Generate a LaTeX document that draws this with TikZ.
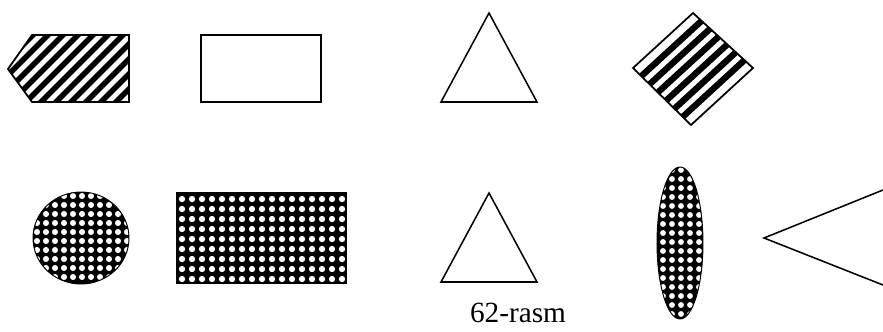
\documentclass[tikz,border=0pt]{standalone}
\usepackage{fontspec}
\setmainfont{Liberation Serif}
\usetikzlibrary{calc}

\begin{document}
\begin{tikzpicture}[
    x=0.03cm, y=-0.03cm,
    outline/.style={
        line width=1.5pt,
        line join=miter
    },
    thinline/.style={
        line width=1.3pt
    },
    hatch/.style={
        line width=4.8pt
    },
    hole/.style={
        fill=white
    }
]
\useasboundingbox (0,0) rectangle (883,331);

% top row: hatched pentagon
\begin{scope}
    \clip (32,35) -- (129,35) -- (129,102) -- (32,102) -- (8,69) -- cycle;
    \foreach \x in {-66,-51,...,140}
        \draw[hatch] (\x,104) -- (\x+72,32);
\end{scope}
\draw[outline] (32,35) -- (129,35) -- (129,102) -- (32,102) -- (8,69) -- cycle;

% empty rectangle
\draw[outline] (201,35) rectangle (321,102);

% triangle
\draw[thinline] (489,13) -- (537,102) -- (441,102) -- cycle;

% striped diamond
\begin{scope}
    \clip (693,13) -- (753,68) -- (691,125) -- (633,68) -- cycle;
    \foreach \t in {1,...,6}
        \draw[hatch, line width=5.4pt] ($(633,68)!\t/7!(691,125)$) -- ($(693,13)!\t/7!(753,68)$);
\end{scope}
\draw[outline] (693,13) -- (753,68) -- (691,125) -- (633,68) -- cycle;

% bottom row: dotted circle
\begin{scope}
    \clip (81,238) ellipse [x radius=48, y radius=46];
    \fill (30,190) rectangle (132,288);
    \foreach \x in {37,46,...,127}
        \foreach \y in {196,205,...,284}
            \fill[hole] (\x,\y) circle (2.6pt);
\end{scope}
\draw[line width=0.8pt] (81,238) ellipse [x radius=48, y radius=46];

% dotted rectangle
\fill (177,193) rectangle (346,283);
\foreach \x in {182,192,...,342}
    \foreach \y in {199,209,...,279}
        \fill[hole] (\x,\y) circle (2.7pt);
\draw[outline] (177,193) rectangle (346,283);

% triangle
\draw[thinline] (489,193) -- (537,282) -- (441,282) -- cycle;

% dotted ellipse
\begin{scope}
    \clip (680,243) ellipse [x radius=23, y radius=76];
    \fill (655,165) rectangle (705,321);
    \foreach \x in {663,672,...,699}
        \foreach \y in {170,179,...,318}
            \fill[hole] (\x,\y) circle (2.5pt);
\end{scope}
\draw[line width=0.8pt] (680,243) ellipse [x radius=23, y radius=76];

% open angle
\draw[thinline] (883,190) -- (764,238) -- (883,285);

\node[font=\fontsize{25}{30}\selectfont, anchor=base, inner sep=0pt] (caption) at (518,322) {62-rasm};

\end{tikzpicture}
\end{document}
